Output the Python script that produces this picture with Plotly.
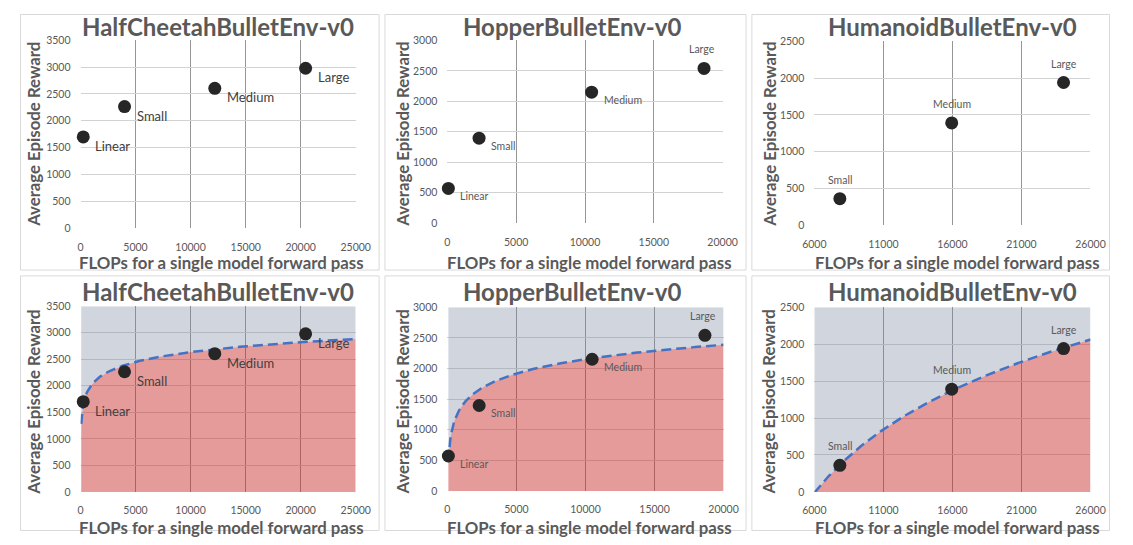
import numpy as np
import plotly.graph_objects as go

# page body keeps its default 8px margin, so the figure is 16px smaller than the
# 1133x545 window and every reference pixel position is shifted by OFF
OFF = 8
W, H = 1133 - 2 * OFF, 545 - 2 * OFF

# ---------------- data ----------------
halfcheetah_x = [250, 4000, 12200, 20450]
halfcheetah_y = [1700, 2265, 2605, 2980]
halfcheetah_labels = ["Linear", "Small", "Medium", "Large"]

hopper_x = [70, 2300, 10480, 18650]
hopper_y = [570, 1395, 2150, 2540]
hopper_labels = ["Linear", "Small", "Medium", "Large"]

humanoid_x = [7850, 15950, 24050]
humanoid_y = [360, 1390, 1940]
humanoid_labels = ["Small", "Medium", "Large"]

env_titles = ["HalfCheetahBulletEnv-v0", "HopperBulletEnv-v0", "HumanoidBulletEnv-v0"]
x_title = "FLOPs for a single model forward pass"
y_title = "Average Episode Reward"

# trendline extent (x) per environment
trend_start = [65, 70, 6000]

# ---------------- styling / layout ----------------
FONT = "Lato, 'Open Sans', sans-serif"
TXT = "#595959"
GRID_V = "rgb(150,150,150)"
GRID_H = "rgb(210,210,210)"
RED_FILL = "rgba(200,36,36,0.457)"
GRAY_FILL = "rgba(114,129,156,0.333)"
LINE_BLUE = "#4472C4"
MARKER = "#262626"

envs = [
    dict(x=halfcheetah_x, y=halfcheetah_y, labels=halfcheetah_labels,
         xr=[0, 25000], yr=[0, 3500], tick0=0, lab_size=13, lab_col="#404040",
         offs=[(10, -9, "left")] * 4),
    dict(x=hopper_x, y=hopper_y, labels=hopper_labels,
         xr=[0, 20000], yr=[0, 3000], tick0=0, lab_size=10.5, lab_col=TXT,
         offs=[(10, -8, "left")] * 3 + [(-2, 19, "center")]),
    dict(x=humanoid_x, y=humanoid_y, labels=humanoid_labels,
         xr=[6000, 26000], yr=[0, 2500], tick0=6000, lab_size=10.5, lab_col=TXT,
         offs=[(0, 19, "center")] * 3),
]

# plot areas in window pixels: (left, right, top, bottom)
areas = [
    [(70, 352, 35, 227), (446, 728, 35, 222), (822, 1105, 36, 224)],
    [(70, 352, 307, 497), (446, 729, 308, 496), (822, 1105, 308, 497)],
]
boxes_x = [(6, 376), (382, 752), (758, 1128)]
boxes_y = [(3, 270), (276, 543)]
title_cx = [211, 574, 964]
xtitle_cx = [215, 592, 969]
ytitle_cx = [22, 400, 776]
title_cy = [21, 292]
xtitle_cy = [262, 533]
ytitle_cy = [131, 405]


def px(v):
    return (v - OFF) / W


def py(v):
    return 1 - (v - OFF) / H


def clampx(f):
    return min(max(f, 0.5 / W), 1 - 0.5 / W)


def clampy(f):
    return min(max(f, 0.5 / H), 1 - 0.5 / H)


fig = go.Figure()
layout = dict(
    width=W, height=H, margin=dict(l=0, r=0, t=0, b=0, pad=0),
    paper_bgcolor="white", plot_bgcolor="white", showlegend=False,
    font=dict(family=FONT, color=TXT),
)
annotations = []
shapes = []

k = 0
for row in range(2):
    for col in range(3):
        k += 1
        e = envs[col]
        xa = "x" if k == 1 else f"x{k}"
        ya = "y" if k == 1 else f"y{k}"
        l, r, t, b = areas[row][col]
        layout["xaxis" if k == 1 else f"xaxis{k}"] = dict(
            domain=[px(l), px(r)], anchor=ya, range=e["xr"], tick0=e["tick0"], dtick=5000,
            tickformat="d",
            showgrid=True, gridcolor=GRID_V, gridwidth=1, zeroline=False, showline=False,
            ticks="", ticklabelstandoff=11,
            tickfont=dict(family=FONT, size=10.5, color=TXT), fixedrange=True,
        )
        layout["yaxis" if k == 1 else f"yaxis{k}"] = dict(
            domain=[py(b), py(t)], anchor=xa, range=e["yr"], dtick=500,
            tickformat="d",
            showgrid=True, gridcolor=GRID_H, gridwidth=1, zeroline=False, showline=False,
            ticks="", ticklabelstandoff=9,
            tickfont=dict(family=FONT, size=10.5, color=TXT), fixedrange=True,
        )

        if row == 1:
            # logarithmic trendline fitted to the points (as the spreadsheet trendline)
            a, c = np.polyfit(np.log(e["x"]), e["y"], 1)
            tx = np.linspace(trend_start[col], e["xr"][1], 300)
            ty = a * np.log(tx) + c
            fig.add_trace(go.Scatter(x=tx, y=ty, mode="lines", line=dict(width=0),
                                     fill="tozeroy", fillcolor=RED_FILL,
                                     xaxis=xa, yaxis=ya, hoverinfo="skip"))
            fig.add_trace(go.Scatter(x=tx, y=[e["yr"][1]] * len(tx), mode="lines",
                                     line=dict(width=0), fill="tonexty", fillcolor=GRAY_FILL,
                                     xaxis=xa, yaxis=ya, hoverinfo="skip"))
            fig.add_trace(go.Scatter(x=tx, y=ty, mode="lines",
                                     line=dict(color=LINE_BLUE, width=2.5, dash="10px,5px"),
                                     xaxis=xa, yaxis=ya, hoverinfo="skip"))

        fig.add_trace(go.Scatter(x=e["x"], y=e["y"], mode="markers",
                                 marker=dict(size=13, color=MARKER), cliponaxis=False,
                                 xaxis=xa, yaxis=ya))
        for xv, yv, lab, (dx, dy, anc) in zip(e["x"], e["y"], e["labels"], e["offs"]):
            annotations.append(dict(
                x=xv, y=yv, xref=xa, yref=ya, text=lab, showarrow=False,
                xanchor=anc, yanchor="middle", xshift=dx, yshift=dy,
                font=dict(family=FONT, size=e["lab_size"], color=e["lab_col"]),
            ))

        # titles
        annotations.append(dict(
            x=px(title_cx[col]), y=py(title_cy[row]), xref="paper", yref="paper",
            text=f"<b>{env_titles[col]}</b>", showarrow=False,
            xanchor="center", yanchor="middle",
            font=dict(family=FONT, size=24, color=TXT)))
        annotations.append(dict(
            x=px(xtitle_cx[col]), y=py(xtitle_cy[row]), xref="paper", yref="paper",
            text=f"<b>{x_title}</b>", showarrow=False,
            xanchor="center", yanchor="middle",
            font=dict(family=FONT, size=16.8, color=TXT)))
        annotations.append(dict(
            x=px(ytitle_cx[col]), y=py(ytitle_cy[row]), xref="paper", yref="paper",
            text=f"<b>{y_title}</b>", showarrow=False, textangle=-90,
            xanchor="center", yanchor="middle",
            font=dict(family=FONT, size=16.8, color=TXT)))

        bx0, bx1 = boxes_x[col]
        by0, by1 = boxes_y[row]
        shapes.append(dict(type="rect", xref="paper", yref="paper",
                           x0=clampx(px(bx0)), x1=clampx(px(bx1)),
                           y0=clampy(py(by1)), y1=clampy(py(by0)),
                           line=dict(color="#D9D9D9", width=1), layer="below"))

layout["annotations"] = annotations
layout["shapes"] = shapes
fig.update_layout(**layout)
fig.write_html("out.html", config={"displayModeBar": False})
